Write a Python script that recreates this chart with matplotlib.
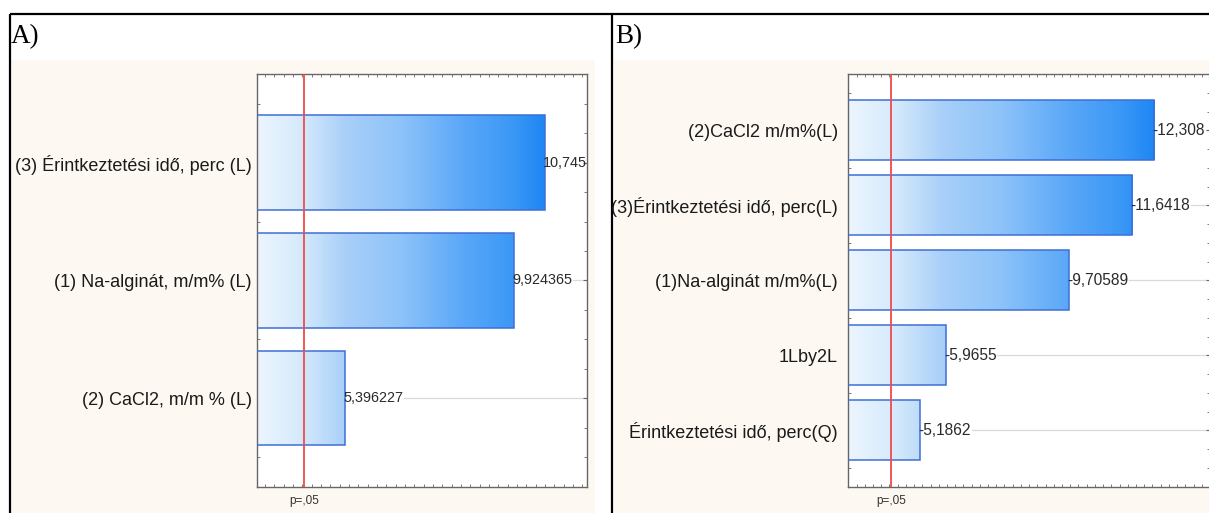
import numpy as np
import matplotlib
matplotlib.use("Agg")
import matplotlib.pyplot as plt
from matplotlib.colors import LinearSegmentedColormap
from matplotlib.patches import Rectangle
from matplotlib.transforms import offset_copy
from matplotlib.ticker import MultipleLocator

plt.rcParams['font.family'] = ['Liberation Sans', 'DejaVu Sans']

# Pareto chart data: standardized effect estimates
categories_a = ["(3) Érintkeztetési idő, perc (L)",
                "(1) Na-alginát, m/m% (L)",
                "(2) CaCl2, m/m % (L)"]
effects_a = [10.745, 9.924365, 5.396227]

categories_b = ["(2)CaCl2 m/m%(L)",
                "(3)Érintkeztetési idő, perc(L)",
                "(1)Na-alginát m/m%(L)",
                "1Lby2L",
                "Érintkeztetési idő, perc(Q)"]
effects_b = [-12.308, -11.6418, -9.70589, -5.9655, -5.1862]

p_label = "p=,05"
t_crit = 4.303          # t(0.975; df=2)
panel_titles = ["A)", "B)"]

W, H = 1209, 513
fig = plt.figure(figsize=(W / 100, H / 100), dpi=100)
fig.patch.set_facecolor("white")

CREAM = "#FDF9F2"
EDGE = "#3D6FD6"
RED = "#EE4B4B"
SPINE = "#666666"
GRID = "#DADADA"
cmap = LinearSegmentedColormap.from_list(
    "bar", [(0.0, "#ECF5FE"), (0.15, "#D6EAFC"), (0.31, "#A8CFF8"),
            (0.5, "#8DC3F9"), (0.72, "#5AA7F8"), (0.89, "#3B98F6"),
            (1.0, "#1E86F4")])

# background: cream panels and table frame
bg = fig.add_axes([0, 0, 1, 1])
bg.set_xlim(0, W)
bg.set_ylim(H, 0)
bg.axis("off")
bg.add_patch(Rectangle((11, 60), 584, H - 60, color=CREAM, lw=0))
bg.add_patch(Rectangle((614, 60), W - 614, H - 60, color=CREAM, lw=0))
bg.plot([10, W], [14, 14], color="black", lw=1.6, solid_capstyle="butt")
bg.plot([10, 10], [14, H], color="black", lw=1.6, solid_capstyle="butt")
bg.plot([612, 612], [14, H], color="black", lw=1.6, solid_capstyle="butt")
bg.text(11, 43, panel_titles[0], family="Liberation Serif", fontsize=19.5,
        va="baseline", ha="left", color="black")
bg.text(615, 43, panel_titles[1], family="Liberation Serif", fontsize=19.5,
        va="baseline", ha="left", color="black")


def px_rect(x0, y0, x1, y1):
    return [x0 / W, (H - y1) / H, (x1 - x0) / W, (y1 - y0) / H]


def pareto(ax, cats, effects, xlim, value_size, label_pad):
    n = len(cats)
    pos = np.arange(n)
    mags = np.abs(np.asarray(effects, dtype=float))
    lo, hi = n - 1 + 0.75, -0.75

    bars = ax.barh(pos, mags, height=0.8, facecolor="none",
                   edgecolor=EDGE, lw=1.1, zorder=3)
    grad = np.linspace(0, 1, 512)[None, :]
    for b in bars:
        im = ax.imshow(grad, extent=(xlim[0], mags.max(), lo, hi), aspect="auto",
                       cmap=cmap, vmin=0, vmax=1, zorder=2, interpolation="bilinear")
        im.set_clip_path(b)

    ax.axvline(t_crit, color=RED, lw=1.3, zorder=4)

    trans = offset_copy(ax.transData, fig=fig, x=-2, y=0, units="dots")
    texts = []
    for p, v in zip(pos, effects):
        texts.append(ax.text(abs(v), p, str(v).replace(".", ","), transform=trans,
                             ha="left", va="center", fontsize=value_size,
                             color="#2a2a2a", zorder=5, clip_on=False))

    ax.set_xlim(xlim)
    ax.set_ylim(lo, hi)
    ax.set_facecolor("white")
    for s in ax.spines.values():
        s.set_color(SPINE)
        s.set_linewidth(1.0)

    ax.set_yticks(pos)
    ax.set_yticklabels(cats, fontsize=13, color="#1a1a1a")
    ax.yaxis.set_minor_locator(MultipleLocator(0.25))
    ax.tick_params(axis="y", which="both", direction="in", left=True, right=True,
                   color=SPINE, pad=label_pad)
    ax.tick_params(axis="y", which="major", length=3)
    ax.tick_params(axis="y", which="minor", length=2)

    ax.set_xticks([t_crit])
    ax.set_xticklabels([p_label], fontsize=8.5, color="#333333")
    ax.xaxis.set_minor_locator(MultipleLocator(0.25))
    ax.tick_params(axis="x", which="major", length=0, pad=6)
    ax.tick_params(axis="x", which="minor", direction="in", top=True, bottom=True,
                   length=2, color=SPINE)
    return pos, texts


ax_a = fig.add_axes(px_rect(257.3, 74.2, 586.7, 486.7))
ax_b = fig.add_axes(px_rect(848.3, 74.2, 1210.0, 486.7))
ax_a.set_zorder(2)
ax_b.set_zorder(2)

panels = [(ax_a, pareto(ax_a, categories_a, effects_a, (3.04, 11.87), 10.4, 4)),
          (ax_b, pareto(ax_b, categories_b, effects_b, (3.0, 14.0), 11.2, 7.5))]

# light guide lines to the right of each value label
fig.canvas.draw()
renderer = fig.canvas.get_renderer()
for ax, (pos, texts) in panels:
    inv = ax.transData.inverted()
    x_right = ax.get_xlim()[1]
    for p, t in zip(pos, texts):
        bb = t.get_window_extent(renderer)
        x_start = inv.transform((bb.x1 + 1, 0))[0]
        if x_start < x_right:
            ax.plot([x_start, x_right], [p, p], color=GRID, lw=0.9, zorder=1)

fig.savefig("out.png", dpi=100)
